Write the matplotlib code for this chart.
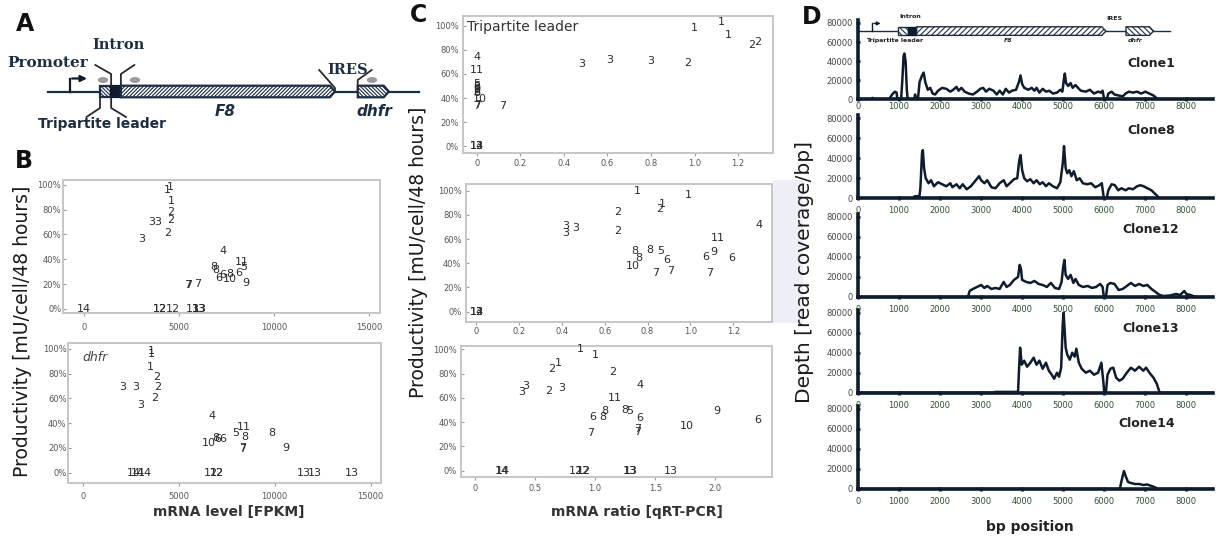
import matplotlib
matplotlib.use("Agg")
import matplotlib.pyplot as plt
from matplotlib.patches import Polygon, Rectangle, Ellipse
from matplotlib.ticker import FuncFormatter

plt.rcParams['font.family'] = ['DejaVu Sans']
plt.rcParams['hatch.linewidth'] = 0.8

W, H = 1218, 537
DARK = '#0f1c2e'
NAVY = '#1d2d44'
TXT = '#2b2b2b'

# construct map, bp
promoter_bp = 330
leader = (980, 1220)
intron = (1220, 1430)
f8 = (1430, 6040)
dhfr = (6530, 7200)
primer_bp = [1045, 1734, 6837]

# panel B top: tripartite leader, FPKM vs productivity (%)
bt_labels = ['1', '1', '1', '2', '2', '2', '3', '3', '3', '4', '11', '5', '6', '8', '8',
             '6', '6', '10', '8', '9', '7', '7', '7', '14', '12', '12', '12', '13', '13', '13']
bt_fpkm = [4370, 4530, 4580, 4580, 4580, 4400, 3580, 3900, 3030, 7300, 8330, 8380, 8160, 6850, 6950,
           7070, 7280, 7680, 7680, 8530, 5480, 5500, 5980, 0, 3980, 4020, 4670, 5720, 6050, 6120]
bt_prod = [96, 98, 87, 78, 72, 61, 70, 70, 56, 47, 37.5, 34, 29, 34, 31,
           25, 27, 24.5, 28.5, 21, 19, 19, 20, 0, 0, 0, 0, 0, 0, 0]

# panel B bottom: dhfr
bb_labels = ['1', '1', '1', '2', '2', '2', '3', '3', '3', '4', '11', '5', '8', '8', '9', '7', '7',
             '10', '8', '6', '6', '14', '14', '14', '12', '12', '12', '13', '13', '13']
bb_fpkm = [3560, 3560, 3510, 3850, 3890, 3730, 2080, 2760, 3020, 6740, 8370, 7990, 8450, 9860, 10590, 8320, 8340,
           6550, 6940, 7050, 7300, 2650, 2850, 3250, 6670, 6980, 7000, 11500, 12100, 14010]
bb_prod = [98, 96, 85, 77, 69, 60, 69, 69, 55, 46, 36.5, 32, 29, 32, 20, 19, 20,
           24, 28, 27, 27, 0, 0, 0, 0, 0, 0, 0, 0, 0]

# panel C top: tripartite leader, qRT-PCR ratio
ct_labels = ['1', '1', '1', '2', '2', '2', '3', '3', '3', '4', '11', '5', '6', '8', '9', '6', '8',
             '10', '7', '7', '7', '12', '13', '14']
ct_ratio = [1.0, 1.124, 1.154, 1.26, 1.29, 0.97, 0.48, 0.61, 0.80, 0.0, 0.0, 0.0, 0.0, 0.0, 0.0, 0.0, 0.0,
            0.015, 0.0, 0.005, 0.12, 0.0, 0.0, 0.0]
ct_prod = [98.6, 103, 92.5, 84, 87, 69, 68, 72, 71, 74, 63, 52, 50, 49, 47, 45, 44,
           39, 33, 34, 33, 0, 0, 0]

# panel C middle: F8
cm_labels = ['1', '1', '1', '2', '2', '2', '3', '3', '3', '4', '5', '6', '6', '6', '7', '7', '7',
             '8', '8', '8', '9', '10', '11', '12', '13', '14']
cm_ratio = [0.75, 0.99, 0.87, 0.857, 0.66, 0.66, 0.416, 0.416, 0.463, 1.32, 0.86, 0.89, 1.07, 1.195, 0.84, 0.91, 1.09,
            0.74, 0.76, 0.81, 1.11, 0.73, 1.13, 0.0, 0.0, 0.0]
cm_prod = [100, 96, 89, 85, 82, 67, 71, 65, 69, 72, 50, 43, 45, 44, 32, 34, 32,
           50, 44, 51, 49.6, 37.5, 61, 0, 0, 0]

# panel C bottom: dhfr
cb_labels = ['1', '1', '1', '2', '2', '2', '3', '3', '3', '4', '5', '6', '6', '6', '7', '7', '7',
             '8', '8', '8', '9', '10', '11', '12', '12', '12', '13', '13', '13', '14', '14']
cb_ratio = [0.88, 1.0, 0.69, 0.64, 1.15, 0.61, 0.39, 0.42, 0.72, 1.37, 1.29, 0.98, 1.37, 2.35, 0.96, 1.35, 1.35,
            1.08, 1.06, 1.25, 2.01, 1.76, 1.16, 0.84, 0.90, 0.91, 1.29, 1.30, 1.63, 0.22, 0.23]
cb_prod = [100, 95, 89, 84, 81, 66, 65, 70, 68.5, 71, 49, 44, 43, 42, 31, 32, 34,
           49, 44, 50, 49, 37, 60, 0, 0, 0, 0, 0, 0, 0, 0]

# panel D: read depth along the construct (bp, depth)
clone1 = [(0, 0), (330, 0), (350, 1500), (380, 0), (760, 0), (800, 3000), (850, 6000), (900, 8000), (940, 7000),
          (960, 0), (1050, 0), (1080, 20000), (1110, 45000), (1130, 48000), (1160, 40000), (1190, 10000), (1210, 0),
          (1370, 0), (1390, 5000), (1420, 0), (1460, 0), (1500, 18000), (1560, 25000), (1600, 28000), (1640, 18000),
          (1700, 10000), (1760, 12000), (1820, 6000), (1880, 5000), (1950, 9000), (2050, 12000), (2150, 11000),
          (2250, 8000), (2320, 10000), (2400, 13000), (2450, 9000), (2520, 12000), (2600, 8000), (2700, 6000),
          (2800, 5000), (2900, 8000), (2980, 11000), (3050, 12000), (3120, 8000), (3200, 11000), (3300, 9000),
          (3380, 5000), (3450, 9000), (3530, 5000), (3600, 11000), (3680, 7000), (3750, 9000), (3850, 10000),
          (3920, 18000), (3960, 25000), (4000, 16000), (4050, 12000), (4150, 10000), (4230, 12000), (4300, 9000),
          (4350, 12000), (4420, 7000), (4500, 11000), (4580, 8000), (4660, 9000), (4750, 6000), (4850, 7000),
          (4930, 10000), (4980, 8000), (5020, 22000), (5040, 27000), (5070, 17000), (5120, 14000), (5180, 17000),
          (5230, 12000), (5300, 15000), (5360, 12000), (5430, 9000), (5550, 8000), (5650, 10000), (5750, 6000),
          (5850, 8000), (5920, 7000), (5960, 9000), (5990, 2000), (6010, 0), (6060, 0), (6100, 6000), (6180, 8000),
          (6250, 5000), (6350, 4000), (6450, 3000), (6520, 6000), (6600, 8000), (6700, 7000), (6800, 8000),
          (6900, 6000), (7000, 8000), (7100, 6000), (7200, 4000), (7280, 1000), (7320, 0), (8650, 0)]
clone8 = [(0, 0), (1330, 0), (1380, 2000), (1450, 2000), (1490, 0), (1520, 10000), (1560, 45000), (1580, 48000),
          (1610, 30000), (1650, 20000), (1720, 15000), (1780, 18000), (1850, 12000), (1950, 16000), (2050, 14000),
          (2150, 12000), (2250, 15000), (2300, 11000), (2400, 14000), (2480, 10000), (2550, 14000), (2650, 9000),
          (2750, 12000), (2850, 17000), (2950, 22000), (3000, 18000), (3080, 15000), (3150, 18000), (3250, 11000),
          (3350, 10000), (3450, 15000), (3550, 18000), (3620, 12000), (3700, 15000), (3800, 19000), (3880, 20000),
          (3930, 38000), (3960, 43000), (4000, 28000), (4050, 20000), (4120, 17000), (4200, 19000), (4280, 15000),
          (4350, 18000), (4430, 14000), (4500, 16000), (4580, 12000), (4650, 15000), (4750, 12000), (4850, 10000),
          (4930, 16000), (4990, 35000), (5020, 52000), (5060, 30000), (5100, 25000), (5150, 28000), (5200, 22000),
          (5260, 27000), (5330, 18000), (5400, 20000), (5480, 15000), (5580, 14000), (5680, 15000), (5780, 11000),
          (5880, 13000), (5940, 15000), (5980, 3000), (6000, 0), (6060, 0), (6100, 8000), (6180, 14000),
          (6260, 13000), (6340, 8000), (6420, 10000), (6520, 8000), (6600, 10000), (6700, 9000), (6800, 12000),
          (6880, 13000), (6960, 12000), (7050, 10000), (7150, 8000), (7250, 4000), (7350, 0), (8650, 0)]
clone12 = [(0, 0), (2680, 0), (2720, 6000), (2800, 8000), (2900, 10000), (3000, 12000), (3080, 9000), (3150, 11000),
           (3250, 8000), (3350, 9000), (3450, 8000), (3550, 15000), (3620, 10000), (3700, 12000), (3800, 17000),
           (3900, 20000), (3940, 32000), (3970, 28000), (4000, 17000), (4100, 15000), (4200, 14000), (4300, 16000),
           (4400, 13000), (4500, 12000), (4600, 10000), (4700, 14000), (4800, 9000), (4900, 8000), (4960, 15000),
           (5000, 30000), (5030, 37000), (5060, 22000), (5120, 18000), (5180, 22000), (5250, 14000), (5300, 18000),
           (5380, 12000), (5480, 10000), (5600, 11000), (5700, 9000), (5800, 10000), (5900, 13000), (5960, 10000),
           (5990, 0), (6040, 0), (6080, 12000), (6150, 14000), (6250, 13000), (6350, 7000), (6450, 8000),
           (6550, 11000), (6650, 14000), (6750, 11000), (6850, 13000), (6950, 11000), (7050, 12000), (7150, 8000),
           (7250, 5000), (7350, 2000), (7450, 1000), (7600, 1500), (7750, 3000), (7850, 2000), (7950, 6000),
           (8000, 3000), (8100, 2000), (8200, 500), (8300, 0), (8650, 0)]
clone13 = [(0, 0), (3330, 0), (3340, 800), (3900, 800), (3920, 20000), (3950, 45000), (3990, 28000), (4050, 32000),
           (4120, 26000), (4200, 30000), (4280, 35000), (4350, 28000), (4420, 32000), (4500, 24000), (4580, 30000),
           (4650, 22000), (4720, 18000), (4780, 14000), (4850, 20000), (4900, 16000), (4950, 25000), (4990, 70000),
           (5010, 80000), (5060, 45000), (5100, 38000), (5160, 33000), (5220, 40000), (5280, 36000), (5320, 44000),
           (5380, 30000), (5450, 24000), (5550, 20000), (5650, 22000), (5750, 18000), (5850, 20000), (5930, 30000),
           (5980, 10000), (6000, 0), (6040, 0), (6080, 18000), (6150, 24000), (6220, 25000), (6290, 15000),
           (6370, 12000), (6450, 14000), (6550, 20000), (6650, 25000), (6750, 22000), (6850, 26000), (6950, 22000),
           (7020, 25000), (7100, 20000), (7200, 15000), (7280, 9000), (7350, 0), (8650, 0)]
clone14 = [(0, 0), (6380, 0), (6420, 8000), (6480, 18000), (6530, 12000), (6580, 7000), (6650, 6000), (6750, 5000),
           (6850, 5000), (6950, 4000), (7050, 4500), (7150, 3000), (7250, 1500), (7300, 0), (8650, 0)]


def px(x, y, w, h):
    return [x / W, 1 - (y + h) / H, w / W, h / H]


def ftext(x, y, s, **kw):
    fig.text(x / W, 1 - y / H, s, ha='center', va='center', **kw)


def draw_construct(ax, y_mid, half_h, tip, backbone, arrow_h, arrow_len, lw, hs, dense):
    ax.plot(backbone, [y_mid, y_mid], color=NAVY, lw=lw, zorder=1)
    ax.plot([promoter_bp, promoter_bp], [y_mid, y_mid + arrow_h], color=DARK, lw=lw)
    ax.annotate('', xy=(promoter_bp + arrow_len, y_mid + arrow_h), xytext=(promoter_bp - 10, y_mid + arrow_h),
                arrowprops=dict(arrowstyle='-|>', color=DARK, lw=lw, mutation_scale=hs))
    lo, hi = y_mid - half_h, y_mid + half_h
    fwd, back = '/' * dense, '\\' * dense
    ax.add_patch(Rectangle((leader[0], lo), leader[1] - leader[0], 2 * half_h, facecolor='white',
                           edgecolor=NAVY, hatch=back, lw=lw, zorder=2))
    ax.add_patch(Rectangle((intron[0], lo), intron[1] - intron[0], 2 * half_h, facecolor=DARK,
                           edgecolor=DARK, lw=lw, zorder=2))
    ax.add_patch(Polygon([(f8[0], lo), (f8[1] - tip, lo), (f8[1], y_mid), (f8[1] - tip, hi), (f8[0], hi)],
                         facecolor='white', edgecolor=NAVY, hatch=fwd, lw=lw, zorder=2))
    ax.add_patch(Polygon([(dhfr[0], lo), (dhfr[1] - tip, lo), (dhfr[1], y_mid), (dhfr[1] - tip, hi), (dhfr[0], hi)],
                         facecolor='white', edgecolor=NAVY, hatch=back, lw=lw, zorder=2))


def pct_axes(rect, labels, xs, ys, xlim, ylim, xticks, xfmt, xpad, ypad):
    ax = fig.add_axes(rect)
    for lab, x, y in zip(labels, xs, ys):
        ax.text(x, y, lab, ha='center', va='center', fontsize=8, color=TXT)
    ax.set_xlim(xlim)
    ax.set_ylim(ylim)
    ax.set_xticks(xticks)
    ax.xaxis.set_major_formatter(FuncFormatter(xfmt))
    ax.set_yticks([0, 20, 40, 60, 80, 100])
    ax.yaxis.set_major_formatter(FuncFormatter(lambda v, p: f'{v:.0f}%'))
    ax.tick_params(labelsize=6, colors='#9a9a9a', labelcolor='#555555', length=2.5, width=0.8)
    ax.tick_params(axis='x', pad=xpad)
    ax.tick_params(axis='y', direction='in', pad=ypad)
    for s in ax.spines.values():
        s.set_color('#c6c6c6')
        s.set_linewidth(1.4)
    return ax


def coverage_axes(rect, pairs, name, name_x, name_y, xpad):
    ax = fig.add_axes(rect)
    bp, depth = zip(*pairs)
    ax.plot(bp, depth, color=DARK, lw=1.8, solid_joinstyle='round')
    ax.set_xlim(0, 8650)
    ax.set_ylim(0, 83000)
    ax.spines[['top', 'right']].set_visible(False)
    for s in ('left', 'bottom'):
        ax.spines[s].set_linewidth(2.6)
        ax.spines[s].set_color(DARK)
    ax.set_xticks(range(0, 8001, 1000))
    ax.set_yticks(range(0, 80001, 20000))
    ax.tick_params(direction='inout', length=3.5, width=2.0, color=DARK, labelsize=6)
    ax.tick_params(axis='x', labelcolor='#2f5230', pad=xpad)
    ax.tick_params(axis='y', labelcolor='#444444', pad=2)
    ax.patch.set_alpha(0)
    ax.text(name_x, name_y, name, transform=ax.transAxes, ha='center', va='center',
            fontsize=9, fontweight='bold', color='#222222')
    return ax


fig = plt.figure(figsize=(W / 100, H / 100), dpi=100)

# faint lavender strip next to panel C
fig.add_artist(Rectangle((773 / W, 1 - 323 / H), 30 / W, 143 / H, transform=fig.transFigure,
                         facecolor='#eeeef7', edgecolor='none', zorder=0))

# ---- A: construct ----
ax_a = fig.add_axes(px(0, 0, 460, 135))
ax_a.set_xlim(-1173, 8732)
ax_a.set_ylim(135, 0)
ax_a.axis('off')
draw_construct(ax_a, 91.5, 5.8, 110, (-140, 7840), -13, 430, 1.6, 9, 9)
for p in primer_bp:
    ax_a.add_patch(Ellipse((p, 80), 190, 4.5, color='#9a9a9a', zorder=3))
for x0, y0, y1, dx, y2 in [(intron[0], 85, 74, -340, 65), (intron[1], 85, 74, 290, 65),
                           (leader[0], 98, 108, -290, 117), (leader[1], 98, 108, 320, 117),
                           (f8[1], 91, 88, -340, 70), (dhfr[0], 91, 80, 300, 70)]:
    ax_a.plot([x0, x0, x0 + dx], [y0, y1, y2], color='#2a2a2a', lw=1.3)
ax_a.text(-140, 63, 'Promoter', ha='center', va='center', fontsize=11, fontweight='bold',
          family='DejaVu Serif', color=NAVY)
ax_a.text(1378, 45, 'Intron', ha='center', va='center', fontsize=10.5, fontweight='bold',
          family='DejaVu Serif', color=NAVY)
ax_a.text(6320, 70, 'IRES', ha='center', va='center', fontsize=10.5, fontweight='bold',
          family='DejaVu Serif', color=NAVY)
ax_a.text(1034, 124, 'Tripartite leader', ha='center', va='center', fontsize=10, fontweight='bold', color=NAVY)
ax_a.text(3672, 112, 'F8', ha='center', va='center', fontsize=11, fontweight='bold', style='italic', color=NAVY)
ax_a.text(6880, 112, 'dhfr', ha='center', va='center', fontsize=11, fontweight='bold', style='italic', color=NAVY)

# ---- B ----
fpkm_fmt = lambda v, p: f'{v:.0f}'
pct_axes(px(62.7, 180, 317.3, 132.7), bt_labels, bt_fpkm, bt_prod, (-1120, 15580), (-3, 103.8),
         [0, 5000, 10000, 15000], fpkm_fmt, 5, 1)
ax_bb = pct_axes(px(68, 343, 313, 140), bb_labels, bb_fpkm, bb_prod, (-765, 15540), (-8.3, 104.6),
                 [0, 5000, 10000, 15000], fpkm_fmt, 4, 1)
ax_bb.text(0.045, 0.893, 'dhfr', transform=ax_bb.transAxes, fontsize=9, style='italic', color='#444444',
           ha='left', va='center')

# ---- C ----
ratio_fmt = lambda v, p: '0' if abs(v) < 1e-9 else f'{v:.1f}'
ax_ct = pct_axes(px(463, 16, 310, 137), ct_labels, ct_ratio, ct_prod, (-0.063, 1.36), (-5.8, 108.3),
                 [0, 0.2, 0.4, 0.6, 0.8, 1.0, 1.2], ratio_fmt, 1.5, 3)
ax_ct.text(0.013, 0.92, 'Tripartite leader', transform=ax_ct.transAxes, fontsize=10, color='#333333',
           ha='left', va='center')
pct_axes(px(465.7, 184, 306, 137.7), cm_labels, cm_ratio, cm_prod, (-0.05, 1.38), (-8.3, 105.5),
         [0, 0.2, 0.4, 0.6, 0.8, 1.0, 1.2], ratio_fmt, 1.5, 3)
pct_axes(px(461, 345.7, 310.7, 131), cb_labels, cb_ratio, cb_prod, (-0.117, 2.47), (-5, 103),
         [0, 0.5, 1.0, 1.5, 2.0], ratio_fmt, 3, 3)

# ---- D ----
ax_d1 = coverage_axes(px(858, 20.1, 355, 79.2), clone1, 'Clone1', 0.825, 0.455, 0)
draw_construct(ax_d1, 71500, 4500, 100, (0, 7600), 8000, 290, 1.0, 5, 6)
for s, x, y in [('Intron', 1280, 86600), ('IRES', 6260, 84900), ('Tripartite leader', 900, 62100),
                ('F8', 3660, 62100), ('dhfr', 6760, 62100)]:
    ax_d1.text(x, y, s, ha='center', va='center', fontsize=4.5, fontweight='bold', color='#222222',
               style='italic' if s in ('F8', 'dhfr') else 'normal', clip_on=False)
coverage_axes(px(858, 115, 355, 83.3), clone8, 'Clone8', 0.825, 0.81, 4)
coverage_axes(px(858, 213.7, 355, 83.3), clone12, 'Clone12', 0.825, 0.81, 4)
coverage_axes(px(858, 309.7, 355, 83), clone13, 'Clone13', 0.825, 0.776, 4)
coverage_axes(px(858, 406, 355, 83), clone14, 'Clone14', 0.813, 0.79, 4)

# ---- letters and axis titles ----
for s, x, y in [('A', 25, 24), ('B', 24, 161), ('C', 418, 15), ('D', 812, 17)]:
    ftext(x, y, s, fontsize=17, fontweight='bold', color='#111111')
ftext(23, 331, 'Productivity [mU/cell/48 hours]', rotation=90, fontsize=13.5, color='#1a1a1a')
ftext(418, 252, 'Productivity [mU/cell/48 hours]', rotation=90, fontsize=13.5, color='#1a1a1a')
ftext(804, 272, 'Depth [read coverage/bp]', rotation=90, fontsize=14.5, color='#1a1a1a')
ftext(229, 512, 'mRNA level [FPKM]', fontsize=10, fontweight='bold', color='#333333')
ftext(637, 512, 'mRNA ratio [qRT-PCR]', fontsize=10, fontweight='bold', color='#333333')
ftext(1030, 527, 'bp position', fontsize=10, fontweight='bold', color='#222222')

fig.savefig('out.png', dpi=100)
